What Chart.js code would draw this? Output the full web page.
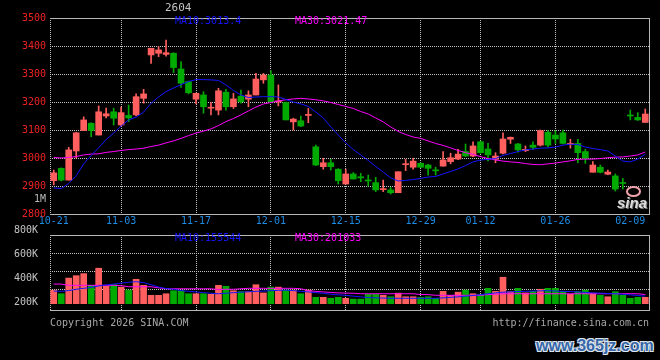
<!DOCTYPE html>
<html>
<head>
<meta charset="utf-8">
<script src="https://cdn.jsdelivr.net/npm/chart.js@4.4.1/dist/chart.umd.min.js"></script>
<style>
  html, body { margin: 0; padding: 0; background: #000; }
  #wrap { position: relative; width: 660px; height: 360px; overflow: hidden; background: #000;
          font-family: 'DejaVu Sans Mono', monospace; font-size: 10px; }
  #wrap canvas { position: absolute; left: 0; }
  #priceChart { top: 0; }
  #volChart { top: 220px; }
  .txt { position: absolute; white-space: pre; line-height: 12px; }
  .ma10 { color: #1414ff; }
  .ma30 { color: #ff00ff; }
  .gray { color: #b8b8b8; }
  #code { left: 165px; top: 2px; font-size: 11px; color: #c4c4c4; }
  #unit { left: 0; width: 46px; text-align: right; top: 193px; }
  #copy { left: 50px; top: 317px; color: #a8a8a8; }
  #url { right: 11px; top: 317px; color: #a8a8a8; }
  #mark { left: 536px; top: 337px; font: bold 16px 'Liberation Sans', Arial, sans-serif; color: #3767a8;
          text-shadow: -1px -1px 0 #dfe6ee, 1px -1px 0 #dfe6ee, -1px 1px 0 #dfe6ee, 1px 1px 0 #dfe6ee; }
  #logoEye { position: absolute; left: 626px; top: 186px; width: 11px; height: 7px;
             border: 2px solid #f2a2ac; border-radius: 50%; }
  #logo { left: 617px; top: 194px; font: italic bold 15px 'Liberation Sans', Arial, sans-serif;
          color: #dcdcdc; text-shadow: 1px 1px 0 #777; }
</style>
</head>
<body>
<div id="wrap">
  <canvas id="priceChart" width="660" height="230"></canvas>
  <canvas id="volChart" width="660" height="100"></canvas>
  <div class="txt" id="code">2604</div>
  <div class="txt ma10" style="left:175px; top:15px;">MA10:3013.4</div>
  <div class="txt ma30" style="left:295px; top:15px;">MA30:3021.47</div>
  <div class="txt gray" id="unit">1M</div>
  <div class="txt ma10" style="left:175px; top:232px;">MA10:155544</div>
  <div class="txt ma30" style="left:295px; top:232px;">MA30:201033</div>
  <div class="txt" id="copy">Copyright 2026 SINA.COM</div>
  <div class="txt" id="url">http://finance.sina.com.cn</div>
  <div id="logoEye"></div>
  <div class="txt" id="logo">sina</div>
  <div class="txt" id="mark">www.365jz.com</div>
</div>
<script>
const dates = [
  '10-21', '10-22', '10-23', '10-24', '10-27', '10-28', '10-29', '10-30', '10-31',
  '11-03', '11-04', '11-05', '11-06', '11-07', '11-10', '11-11', '11-12', '11-13', '11-14',
  '11-17', '11-18', '11-19', '11-20', '11-21', '11-24', '11-25', '11-26', '11-27', '11-28',
  '12-01', '12-02', '12-03', '12-04', '12-05', '12-08', '12-09', '12-10', '12-11', '12-12',
  '12-15', '12-16', '12-17', '12-18', '12-19', '12-22', '12-23', '12-24', '12-25', '12-26',
  '12-29', '12-30', '12-31',
  '01-05', '01-06', '01-07', '01-08', '01-09', '01-12', '01-13', '01-14', '01-15', '01-16',
  '01-19', '01-20', '01-21', '01-22', '01-23', '01-26', '01-27', '01-28', '01-29', '01-30',
  '02-02', '02-03', '02-04', '02-05', '02-06', '02-09', '02-10', '02-11',
];
const tickDates = ['10-21', '11-03', '11-17', '12-01', '12-15', '12-29', '01-12', '01-26', '02-09'];
const noGridDates = ['10-21', '02-09'];

const openPrices = [
  2919, 2963, 2921, 3025, 3098, 3124, 3082, 3150, 3165, 3118,
  3152, 3154, 3213, 3368, 3374, 3370, 3374, 3318, 3273, 3210,
  3225, 3178, 3171, 3235, 3183, 3221, 3210, 3225, 3279, 3296,
  3200, 3198, 3129, 3133, 3152, 3040, 2969, 2983, 2960, 2907,
  2943, 2933, 2921, 2912, 2887, 2886, 2876, 2976, 2967, 2981,
  2975, 2957, 2971, 2987, 2996, 3023, 3007, 3058, 3032, 2995,
  3017, 3067, 3050, 3026, 3046, 3046, 3092, 3082, 3090, 3048,
  3052, 3023, 2949, 2967, 2942, 2936, 2912, 3153, 3145, 3127,
];
const highPrices = [
  2957, 2965, 3038, 3092, 3147, 3126, 3186, 3178, 3178, 3182,
  3189, 3229, 3245, 3392, 3398, 3421, 3376, 3344, 3275, 3232,
  3237, 3198, 3249, 3245, 3231, 3243, 3240, 3302, 3302, 3312,
  3261, 3200, 3142, 3150, 3177, 3046, 2999, 2995, 2962, 2960,
  2948, 2945, 2939, 2931, 2921, 2895, 2951, 2995, 2999, 2983,
  2977, 2967, 3023, 3017, 3031, 3050, 3058, 3060, 3052, 3019,
  3090, 3075, 3052, 3043, 3058, 3100, 3098, 3098, 3100, 3067,
  3067, 3031, 2987, 2975, 2957, 2943, 2927, 3171, 3162, 3175,
];
const lowPrices = [
  2904, 2918, 2921, 3000, 3098, 3076, 3082, 3143, 3118, 3115,
  3130, 3150, 3196, 3338, 3362, 3364, 3305, 3252, 3229, 3193,
  3160, 3154, 3154, 3171, 3177, 3196, 3183, 3225, 3267, 3199,
  3186, 3136, 3100, 3112, 3126, 2973, 2960, 2957, 2907, 2907,
  2925, 2915, 2900, 2880, 2880, 2871, 2876, 2955, 2960, 2965,
  2939, 2939, 2971, 2979, 2994, 3005, 3005, 3017, 2990, 2983,
  3015, 3052, 3021, 3023, 3031, 3043, 3040, 3052, 3050, 3035,
  2983, 2981, 2949, 2947, 2940, 2882, 2889, 3136, 3134, 3127,
];
const closePrices = [
  2947, 2921, 3029, 3090, 3136, 3098, 3165, 3158, 3142, 3162,
  3143, 3219, 3229, 3392, 3386, 3376, 3323, 3267, 3233, 3231,
  3183, 3181, 3240, 3183, 3211, 3201, 3225, 3282, 3296, 3201,
  3204, 3136, 3139, 3114, 3155, 2975, 2983, 2969, 2919, 2943,
  2925, 2929, 2918, 2886, 2889, 2876, 2951, 2978, 2989, 2967,
  2963, 2954, 2993, 3001, 3014, 3007, 3043, 3019, 3011, 3007,
  3068, 3074, 3029, 3031, 3038, 3098, 3046, 3068, 3052, 3052,
  3019, 2999, 2975, 2949, 2950, 2889, 2909, 3150, 3136, 3157,
];
const ma10Prices = [
  2893, 2891, 2909, 2937, 2979, 3009, 3037, 3066, 3089, 3114,
  3136, 3146, 3164, 3196, 3218, 3237, 3250, 3262, 3273, 3280,
  3280, 3279, 3277, 3261, 3241, 3225, 3216, 3218, 3219, 3219,
  3218, 3209, 3200, 3193, 3184, 3164, 3143, 3111, 3082, 3054,
  3030, 3011, 2991, 2970, 2950, 2929, 2918, 2920, 2923, 2927,
  2932, 2934, 2943, 2952, 2961, 2973, 2986, 2993, 2995, 2998,
  3009, 3016, 3023, 3029, 3032, 3035, 3036, 3039, 3046, 3049,
  3048, 3039, 3034, 3030, 3025, 3007, 2989, 2986, 2996, 3013.4,
];
const ma30Prices = [
  3002, 3000, 3002, 3005, 3011, 3014, 3015, 3020, 3023, 3027,
  3030, 3032, 3035, 3041, 3046, 3054, 3061, 3070, 3080, 3089,
  3096, 3104, 3116, 3130, 3141, 3154, 3168, 3182, 3193, 3198,
  3204, 3208, 3211, 3213, 3211, 3208, 3204, 3198, 3191, 3184,
  3177, 3166, 3157, 3143, 3129, 3111, 3095, 3084, 3075, 3070,
  3061, 3052, 3045, 3036, 3027, 3019, 3013, 3005, 2998, 2993,
  2989, 2986, 2984, 2980, 2977, 2976, 2979, 2982, 2986, 2990,
  2995, 2996, 2996, 2998, 3001, 3003, 3004, 3007, 3011, 3021.47,
];
const volumeK = [
  305, 275, 405, 425, 442, 345, 487, 337, 350, 330,
  305, 395, 345, 262, 262, 275, 300, 300, 275, 275,
  275, 270, 345, 337, 300, 292, 292, 350, 282, 330,
  330, 305, 305, 275, 305, 245, 245, 237, 245, 237,
  230, 230, 270, 270, 262, 250, 280, 250, 250, 245,
  250, 237, 295, 262, 288, 305, 275, 270, 320, 295,
  412, 292, 320, 282, 295, 312, 320, 320, 295, 270,
  292, 305, 280, 262, 250, 292, 262, 237, 245, 245,
];
const volMa10K = [
  297, 295, 301, 312, 320, 327, 340, 348, 355, 363,
  370, 375, 367, 350, 331, 318, 312, 301, 295, 290,
  284, 279, 275, 279, 284, 288, 291, 295, 297, 300,
  303, 305, 301, 295, 290, 284, 279, 271, 266, 262,
  255, 249, 243, 241, 239, 237, 237, 237, 237, 237,
  237, 237, 241, 245, 249, 255, 260, 268, 275, 282,
  288, 290, 294, 295, 297, 299, 300, 297, 295, 293,
  290, 286, 282, 280, 277, 275, 271, 266, 260, 255,
];
const volMa30K = [
  355, 355, 345, 345, 345, 345, 345, 345, 345, 342,
  333, 333, 333, 333, 324, 316, 316, 316, 316, 316,
  316, 316, 310, 312, 312, 316, 320, 320, 320, 320,
  320, 320, 320, 316, 301, 294, 290, 286, 282, 280,
  279, 275, 275, 275, 275, 275, 275, 275, 275, 268,
  268, 262, 262, 262, 262, 262, 262, 262, 268, 271,
  275, 275, 275, 275, 275, 275, 275, 275, 275, 275,
  275, 275, 275, 275, 275, 275, 275, 275, 275, 268,
];
const priceTicks = [2800, 2900, 3000, 3100, 3200, 3300, 3400, 3500];
const volumeTicks = [200, 400, 600, 800];
const volumeGrid = [312.5, 462.5, 612.5];

const UP = '#ff5f5f';
const DOWN = '#00aa00';
const MA10_COLOR = '#1414ff';
const MA30_COLOR = '#ff00ff';
const GRID = '#c4c4c4';
const FRAME = '#b8b8b8';
const monoFont = { family: 'DejaVu Sans Mono', size: 10 };

const candleColors = dates.map((d, i) => (closePrices[i] >= openPrices[i] ? UP : DOWN));

function points(values) {
  return values.map((v, i) => ({ x: i + 0.5, y: v }));
}

function dateAxis(showLabels) {
  return {
    type: 'linear',
    position: 'bottom',
    min: 0,
    max: dates.length,
    offset: false,
    afterBuildTicks(scale) {
      scale.ticks = [{ value: 0 }].concat(tickDates.map((d) => ({ value: dates.indexOf(d) + 0.5 })));
    },
    afterFit(scale) {
      scale.height = showLabels ? 16 : 0;
    },
    ticks: {
      display: showLabels,
      autoSkip: false,
      maxRotation: 0,
      padding: 1,
      color: '#1c8ce4',
      font: monoFont,
      callback(value) {
        return value === 0 ? '' : dates[value - 0.5];
      },
    },
    grid: {
      offset: false,
      drawTicks: false,
      color(ctx) {
        if (!ctx.tick || ctx.tick.value === 0) return GRID;
        return noGridDates.includes(dates[ctx.tick.value - 0.5]) ? 'rgba(0,0,0,0)' : GRID;
      },
    },
    border: { display: true, color: FRAME, dash: [1, 1] },
  };
}

function edgeAxis(position) {
  const vertical = position === 'right';
  return {
    type: 'linear',
    position,
    offset: false,
    afterFit(scale) {
      if (vertical) scale.width = 0;
      else scale.height = 0;
    },
    ticks: { display: false },
    grid: { display: false },
    border: { display: true, color: FRAME },
  };
}

const commonOptions = {
  responsive: false,
  animation: false,
  events: [],
  plugins: { legend: { display: false }, tooltip: { enabled: false } },
};

new Chart(document.getElementById('priceChart'), {
  type: 'bar',
  data: {
    datasets: [
      { type: 'line', data: points(ma10Prices), borderColor: MA10_COLOR, borderWidth: 1,
        pointRadius: 0, tension: 0, order: 0 },
      { type: 'line', data: points(ma30Prices), borderColor: MA30_COLOR, borderWidth: 1,
        pointRadius: 0, tension: 0, order: 1 },
      { type: 'bar', data: dates.map((d, i) => ({ x: i + 0.5, y: [openPrices[i], closePrices[i]] })),
        backgroundColor: candleColors, barThickness: 6, minBarLength: 1, grouped: false, order: 2 },
      { type: 'bar', data: dates.map((d, i) => ({ x: i + 0.5, y: [lowPrices[i], highPrices[i]] })),
        backgroundColor: candleColors, barThickness: 1, minBarLength: 1, grouped: false, order: 3 },
    ],
  },
  options: {
    ...commonOptions,
    layout: { padding: { left: 0, top: 18, right: 11, bottom: 0 } },
    scales: {
      x: dateAxis(true),
      xTop: edgeAxis('top'),
      y: {
        type: 'linear',
        position: 'left',
        min: 2800,
        max: 3500,
        afterBuildTicks(scale) {
          scale.ticks = priceTicks.map((v) => ({ value: v }));
        },
        afterFit(scale) {
          scale.width = 50;
        },
        ticks: { color: '#ee2222', padding: 4, font: monoFont, autoSkip: false,
          callback: (v) => String(v) },
        grid: { drawTicks: false, color: GRID },
        border: { display: false, dash: [1, 1] },
      },
      yRight: edgeAxis('right'),
    },
  },
});

new Chart(document.getElementById('volChart'), {
  type: 'bar',
  data: {
    datasets: [
      { type: 'line', data: points(volMa10K), borderColor: MA10_COLOR, borderWidth: 1,
        pointRadius: 0, tension: 0, yAxisID: 'y', order: 0 },
      { type: 'line', data: points(volMa30K), borderColor: MA30_COLOR, borderWidth: 1,
        pointRadius: 0, tension: 0, yAxisID: 'y', order: 1 },
      { type: 'bar', data: points(volumeK), backgroundColor: candleColors, barThickness: 6,
        base: 192.5, grouped: false, yAxisID: 'y', order: 2 },
    ],
  },
  options: {
    ...commonOptions,
    layout: { padding: { left: 0, top: 15, right: 11, bottom: 2 } },
    scales: {
      x: dateAxis(false),
      xTop: edgeAxis('top'),
      y: {
        type: 'linear',
        position: 'left',
        min: 140,
        max: 762.5,
        afterBuildTicks(scale) {
          scale.ticks = volumeTicks.map((v) => ({ value: v }));
        },
        afterFit(scale) {
          scale.width = 50;
        },
        ticks: { color: '#c4c4c4', padding: 4, font: monoFont, autoSkip: false,
          callback: (v) => `${v}K` },
        grid: { display: false },
        border: { display: false },
      },
      yGrid: {
        type: 'linear',
        position: 'right',
        min: 140,
        max: 762.5,
        afterBuildTicks(scale) {
          scale.ticks = volumeGrid.map((v) => ({ value: v }));
        },
        afterFit(scale) {
          scale.width = 0;
        },
        ticks: { display: false },
        grid: { drawTicks: false, color: GRID },
        border: { display: true, color: FRAME, dash: [1, 1] },
      },
    },
  },
});
</script>
</body>
</html>
